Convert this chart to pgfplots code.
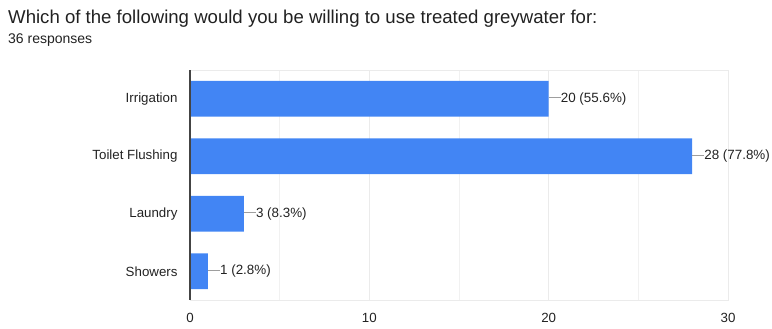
\documentclass[border=0pt]{standalone}
\usepackage{fontspec}
\setmainfont{Liberation Sans}
\usepackage{pgfplots}
\pgfplotsset{compat=1.18}
\definecolor{barblue}{HTML}{4285F4}
\definecolor{txt}{HTML}{212121}
\definecolor{lbl}{HTML}{222222}
\definecolor{gridc}{HTML}{EBEBEB}
\definecolor{leader}{HTML}{9E9E9E}
\definecolor{base}{HTML}{444444}
\begin{document}
\begin{tikzpicture}[x=1bp,y=1bp]
\path (0,0) rectangle (772,328);
\node[anchor=west, inner sep=0pt, text=txt, font=\fontsize{18.6bp}{20bp}\selectfont] at (8,309) {Which of the following would you be willing to use treated greywater for:};
\node[anchor=west, inner sep=0pt, text=txt, font=\fontsize{14bp}{16bp}\selectfont] at (8,288) {36 responses};
\begin{axis}[
  at={(190bp,28bp)}, anchor=south west,
  scale only axis, width=538bp, height=230bp,
  xbar, bar width=35.7bp,
  xmin=0, xmax=30, ymin=-0.5, ymax=3.5, y dir=reverse,
  xtick={0,10,20,30}, minor xtick={5,15,25},
  ytick={0,1,2,3},
  yticklabels={Irrigation,Toilet Flushing,Laundry,Showers},
  xmajorgrids, xminorgrids,
  major grid style={gridc, line width=0.8bp},
  minor grid style={gridc!70, line width=0.8bp},
  axis line style={gridc, line width=0.8bp},
  major tick length=0pt, minor tick length=0pt,
  tick style={draw=none},
  ticklabel style={font=\fontsize{13.3bp}{15bp}\selectfont, text=lbl},
  xticklabel style={yshift=-9.5bp},
  yticklabel style={xshift=-9bp},
  /pgf/number format/assume math mode=true,
  clip=false,
  point meta=explicit symbolic,
  nodes near coords={\textcolor{leader}{\rule[0.33em]{12bp}{0.8bp}}\pgfplotspointmeta},
  nodes near coords style={anchor=west, inner sep=0pt, text=lbl, font=\fontsize{13.4bp}{15bp}\selectfont},
]
\addplot[fill=barblue, draw=none] coordinates {
  (20,0) [20 (55.6\%)]
  (28,1) [28 (77.8\%)]
  (3,2) [3 (8.3\%)]
  (1,3) [1 (2.8\%)]
};
\draw[base, line width=1.2bp] (axis cs:0,-0.5) -- (axis cs:0,3.5);
\end{axis}
\end{tikzpicture}
\end{document}
